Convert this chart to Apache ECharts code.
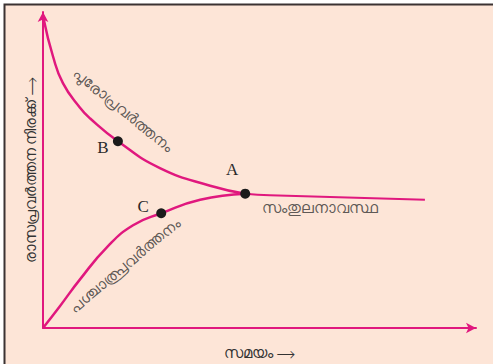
<!DOCTYPE html>
<html>
<head>
<meta charset="utf-8">
<script src="https://cdn.jsdelivr.net/npm/echarts@6/dist/echarts.min.js"></script>
<style>
    html, body { margin: 0; padding: 0; background: #fff; }
    #chart01 { width: 493px; height: 364px; }
</style>
</head>
<body>
<div id="chart01"></div>
<script>
// values (time, rate), arbitrary units 0-100
var forwardData = [[0.2, 97.5], [2.3, 86.0], [4.6, 77.5], [8.5, 69.8], [10.9, 66.3], [17.3, 59.1], [27.0, 50.6], [38.6, 45.0], [46.7, 42.5]];
var backwardData = [[0, 0], [3.9, 6.9], [8.5, 15.3], [14.8, 25.6], [20.8, 32.5], [27.3, 36.3], [36.3, 40.6], [46.7, 42.5]];
var equilibriumData = [[46.7, 42.5], [52.4, 42.0], [88.2, 40.6]];
var pointNames = ['B', 'C', 'A'];
var pointData = [[17.3, 59.1], [27.3, 36.3], [46.7, 42.5]];
var curveLabels = ['പുരോപ്രവർത്തനം', 'പശ്ചാത്പ്രവർത്തനം', 'സംതുലനാവസ്ഥ'];
var curveLabelPos = [[18.6, 69.2], [18.8, 20.0], [64, 38.2]];
var curveLabelRotate = [-39, 40, 0];
var xName = 'സമയം ⟶';
var yName = 'രാസപ്രവർത്തന നിരക്ക് ⟶';

var pink = '#e0187e';
var mlFont = '"Noto Sans", sans-serif';

var chart01 = echarts.init(document.getElementById("chart01"), null, {renderer: 'svg'});

var pointOffsets = {B: [-15, 6], C: [-18, -7], A: [-13, -24]};

var option = {
    backgroundColor: '#fff',
    animation: false,
    graphic: [
        {type: 'rect', z: -10, shape: {x: 4, y: 4, width: 489, height: 360}, style: {fill: '#fde5d7'}},
        {type: 'polyline', z: -9, shape: {points: [[4.5, 364], [4.5, 4.5], [493, 4.5]]}, style: {stroke: '#3b3333', lineWidth: 2, fill: null}}
    ],
    grid: {left: 43, right: 17, top: 12, bottom: 32},
    xAxis: {
        type: 'value', min: 0, max: 100,
        name: xName, nameLocation: 'middle', nameGap: 16,
        nameTextStyle: {fontFamily: mlFont, fontSize: 15, color: '#333'},
        axisLine: {onZero: false, symbol: ['none', 'arrow'], symbolSize: [8, 10], lineStyle: {color: pink, width: 2}},
        axisTick: {show: false}, axisLabel: {show: false}, splitLine: {show: false}
    },
    yAxis: {
        type: 'value', min: 0, max: 100,
        name: yName, nameLocation: 'middle', nameGap: 6, nameRotate: 90,
        nameTextStyle: {fontFamily: mlFont, fontSize: 15, color: '#333'},
        axisLine: {show: true, onZero: false, symbol: ['none', 'arrow'], symbolSize: [8, 10], lineStyle: {color: pink, width: 2}},
        axisTick: {show: false}, axisLabel: {show: false}, splitLine: {show: false}
    },
    series: [
        {type: 'line', data: forwardData, smooth: true, showSymbol: false, lineStyle: {color: pink, width: 2.5}},
        {type: 'line', data: backwardData, smooth: true, showSymbol: false, lineStyle: {color: pink, width: 2.5}},
        {type: 'line', data: equilibriumData, smooth: true, showSymbol: false, lineStyle: {color: pink, width: 2}},
        {
            type: 'scatter', z: 5,
            data: pointData.map(function (p, i) {
                return {
                    value: p,
                    label: {show: true, formatter: pointNames[i], position: 'inside', offset: pointOffsets[pointNames[i]]}
                };
            }),
            symbolSize: 10,
            itemStyle: {color: '#1b1b1b', opacity: 1},
            label: {fontFamily: '"Liberation Serif", serif', fontSize: 17, color: '#2a2a2a'}
        },
        {
            type: 'scatter', z: 4,
            symbolSize: 0,
            data: curveLabelPos.map(function (p, i) {
                return {
                    value: p,
                    label: {show: true, formatter: curveLabels[i], position: 'inside', rotate: curveLabelRotate[i]}
                };
            }),
            label: {fontFamily: mlFont, fontSize: 15, color: '#333'}
        }
    ]
};

if (option && typeof option === "object") {
    chart01.setOption(option, true);
}
</script>
</body>
</html>
